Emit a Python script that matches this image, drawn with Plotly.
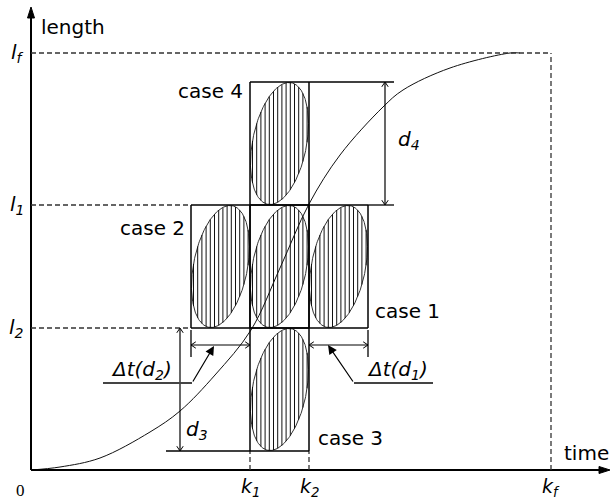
import numpy as np
import plotly.graph_objects as go

# Time marks and length levels
k1, k2, kf = 219, 278, 520
l2, l1, lf = 142, 265, 417
dt = k2 - k1          # width of one cell (Δt)
dl = l1 - l2          # height of one cell (d)

# Growth curve samples (time, length)
curve_t = [0, 29, 69, 119, 149, 184, 220, 249, 278, 309, 352, 372, 419, 479, 489]
curve_l = [0, 3, 12, 38, 59, 95, 140, 202, 266, 315, 363, 380, 402, 417, 417]

# Cells: name -> (t0, t1, len0, len1)
cases = {
    "centre": (k1, k2, l2, l1),
    "case 1": (k2, k2 + dt, l2, l1),
    "case 2": (k1 - dt, k1, l2, l1),
    "case 3": (k1, k2, l2 - dl, l2),
    "case 4": (k1, k2, l1, l1 + dl),
}

FONT = "DejaVu Sans"
fig = go.Figure()

# Hatched slanted ellipses inscribed in each cell
tilt = np.deg2rad(71)
for t0, t1, y0, y1 in cases.values():
    cx, cy = (t0 + t1) / 2, (y0 + y1) / 2
    a, b = (t1 - t0) / 2 - 0.5, (y1 - y0) / 2 - 0.5
    s = np.linspace(0, 2 * np.pi, 240)
    ex = cx + a * np.cos(s)
    ey = cy + b * np.cos(s - tilt)
    fig.add_trace(go.Scatter(x=ex, y=ey, mode="lines",
                             line=dict(color="#333", width=1), hoverinfo="skip"))
    hx, hy = [], []
    for x in np.arange(t0 + 2.5, t1 - 1, 4.2):
        u = (x - cx) / a
        r = np.sqrt(max(0.0, 1 - u * u))
        ya = cy + b * (u * np.cos(tilt) - r * np.sin(tilt))
        yb = cy + b * (u * np.cos(tilt) + r * np.sin(tilt))
        hx += [x, x, None]
        hy += [ya, yb, None]
    fig.add_trace(go.Scatter(x=hx, y=hy, mode="lines",
                             line=dict(color="#111", width=1), hoverinfo="skip"))

# Growth curve
fig.add_trace(go.Scatter(x=curve_t, y=curve_l, mode="lines", line_shape="spline",
                         line=dict(color="#111", width=1), hoverinfo="skip"))

shapes = []


def seg(x0, y0, x1, y1, w=1.5, dash=None, color="black"):
    line = dict(color=color, width=w)
    if dash:
        line["dash"] = dash
    shapes.append(dict(type="line", xref="x", yref="y", x0=x0, y0=y0, x1=x1, y1=y1,
                       line=line, layer="above"))


def chevron(x, y, direction, size=4):
    dx, dy = {"up": (0, -1), "down": (0, 1), "left": (1, 0), "right": (-1, 0)}[direction]
    px, py = -dy, dx
    p = (f"M {x + dx * size * 1.2 + px * size * 0.8} {y + dy * size * 1.2 + py * size * 0.8} "
         f"L {x} {y} L {x + dx * size * 1.2 - px * size * 0.8} {y + dy * size * 1.2 - py * size * 0.8}")
    shapes.append(dict(type="path", xref="x", yref="y", path=p,
                       line=dict(color="black", width=1), layer="above"))


def filled_head(x, y, direction, length=11, half=3.5):
    dx, dy = {"up": (0, -1), "right": (-1, 0)}[direction]
    px, py = -dy, dx
    bx, by = x + dx * length, y + dy * length
    p = (f"M {bx + px * half} {by + py * half} L {x} {y} "
         f"L {bx - px * half} {by - py * half} Z")
    shapes.append(dict(type="path", xref="x", yref="y", path=p,
                       fillcolor="black", line=dict(color="black", width=1), layer="above"))


# Axes with arrowheads
y_top, x_end = 463, 579
seg(0, 0, 0, y_top - 6, w=2)
seg(0, 0, x_end - 6, 0, w=2)
filled_head(0, y_top, "up")
filled_head(x_end, 0, "right")

# Dashed reference lines
dash = "5px,3px"
seg(0, lf, kf, lf, w=1.3, dash=dash, color="#333")
seg(kf, 0, kf, lf, w=1.3, dash=dash, color="#333")
seg(0, l1, k1 - dt, l1, w=1.3, dash=dash, color="#333")
seg(0, l2, k1 - dt, l2, w=1.3, dash=dash, color="#333")
seg(k1, 0, k1, l2 - dl, w=1.3, dash=dash, color="#333")
seg(k2, 0, k2, l2 - dl, w=1.3, dash=dash, color="#333")

# Cell borders
for t0, t1, y0, y1 in cases.values():
    for xa, ya, xb, yb in [(t0, y0, t1, y0), (t0, y1, t1, y1), (t0, y0, t0, y1), (t1, y0, t1, y1)]:
        seg(xa, ya, xb, yb, w=1.5)

# Extension lines for d4 and d3
ext_r = k2 + dt + 26
seg(k2 + dt, l1, ext_r, l1, w=1.3)
seg(k2, l1 + dl, ext_r, l1 + dl, w=1.3)
d4_x = k2 + dt + 17
seg(d4_x, l1 + 1, d4_x, l1 + dl - 1, w=1.2)
chevron(d4_x, l1 + dl, "up")
chevron(d4_x, l1, "down")

ext_l = k1 - 84
seg(ext_l, l2 - dl, k1, l2 - dl, w=1.3)
d3_x = k1 - 70
seg(d3_x, l2 - dl + 1, d3_x, l2 - 1, w=1.2)
chevron(d3_x, l2, "up")
chevron(d3_x, l2 - dl, "down")

# Δt dimension arrows
dt_y = l2 - 17
seg(k1 - dt, l2 - 2, k1 - dt, l2 - 29, w=1.3)
seg(k2 + dt, l2 - 2, k2 + dt, l2 - 29, w=1.3)
seg(k1 - dt, dt_y, k1, dt_y, w=1)
seg(k2, dt_y, k2 + dt, dt_y, w=1)
chevron(k1 - dt, dt_y, "left")
chevron(k1, dt_y, "right")
chevron(k2, dt_y, "left")
chevron(k2 + dt, dt_y, "right")

# Leader lines for the Δt labels
lead_y = 87
seg(72, lead_y, 161, lead_y, w=2, color="#444")
seg(323, lead_y, 402, lead_y, w=2, color="#444")

annotations = []
for tip, tail in [((183, dt_y - 1), (161, lead_y)), ((297, dt_y), (323, lead_y))]:
    annotations.append(dict(x=tip[0], y=tip[1], ax=tail[0], ay=tail[1], xref="x", yref="y",
                            axref="x", ayref="y", text="", showarrow=True, arrowhead=2,
                            arrowsize=1.5, arrowwidth=1.2, arrowcolor="black",
                            font=dict(family=FONT, size=12, color="black")))


def label(x, y, text, xanchor="center", yanchor="middle", size=20, family=FONT):
    annotations.append(dict(x=x, y=y, xref="x", yref="y", text=text, showarrow=False,
                            xanchor=xanchor, yanchor=yanchor,
                            font=dict(family=family, size=size, color="black")))


label(8, 443, "length", xanchor="left")
label(531, 17, "time", xanchor="left")
label(-5, lf, "<i>l</i><sub><i>f</i></sub>", xanchor="right")
label(-5, l1, "<i>l</i><sub><i>1</i></sub>", xanchor="right")
label(-5, l2, "<i>l</i><sub><i>2</i></sub>", xanchor="right")
label(-11, -20, "0", size=17, family="Liberation Serif")
label(k1, -17, "<i>k</i><sub><i>1</i></sub>", size=19)
label(k2, -17, "<i>k</i><sub><i>2</i></sub>", size=19)
label(kf, -17, "<i>k</i><sub><i>f</i></sub>", size=19)
label(k1 - 5, 379, "case 4", xanchor="right")
label(k1 - dt - 4, 242, "case 2", xanchor="right")
label(k2 + dt + 5, 159, "case 1", xanchor="left")
label(k2 + 7, 32, "case 3", xanchor="left")
label(d4_x + 11, 330, "<i>d</i><sub><i>4</i></sub>", xanchor="left")
label(d3_x + 4, 40, "<i>d</i><sub><i>3</i></sub>", xanchor="left")
label(110, 100, "<i>Δt(d</i><sub><i>2</i></sub><i>)</i>")
label(366, 100, "<i>Δt(d</i><sub><i>1</i></sub><i>)</i>")

fig.update_layout(
    width=616, height=501, margin=dict(l=0, r=0, t=0, b=0),
    paper_bgcolor="white", plot_bgcolor="white", showlegend=False,
    xaxis=dict(range=[-31, 585], visible=False, fixedrange=True),
    yaxis=dict(range=[-31, 470], visible=False, fixedrange=True),
    shapes=shapes, annotations=annotations,
)

fig.write_html("out.html")
